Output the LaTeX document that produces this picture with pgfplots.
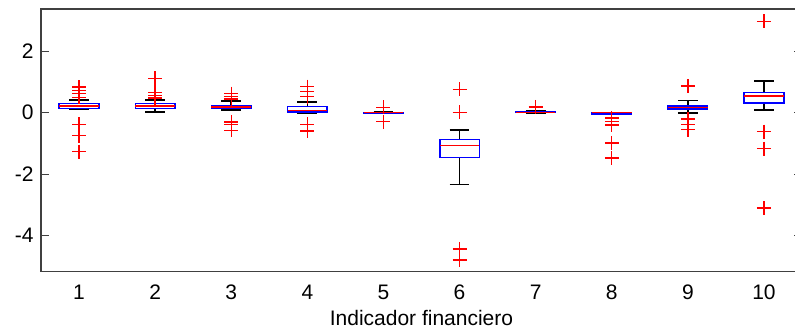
\documentclass[border=0pt]{standalone}
\usepackage{fontspec}
\setmainfont{Liberation Sans}
\usepackage{pgfplots}
\pgfplotsset{compat=1.18}
\usepgfplotslibrary{statistics}
\definecolor{mred}{RGB}{255,0,0}
\definecolor{mblue}{RGB}{0,0,255}
\begin{document}
\fontsize{10.5}{12.6}\selectfont
\begin{tikzpicture}
\begin{axis}[name=ax, at={(0,0)}, anchor=south west,
 scale only axis, width=380.5pt, height=131.2pt,
 xmin=0.5, xmax=10.5, ymin=-5.17, ymax=3.36,
 xtick={1,2,3,4,5,6,7,8,9,10}, ytick={-4,-2,0,2},
 xtick style={draw=none},
 tick align=inside, major tick length=4pt,
 ytick style={black!75, line width=0.6pt},
 axis line style={black!75, line width=0.8pt},
 /pgf/number format/assume math mode=true,
 tick label style={font=\fontsize{10.5}{12.6}\selectfont},
 xticklabel style={yshift=-3pt},
 xlabel={Indicador financiero},
 xlabel style={font=\fontsize{10.5}{12.6}\selectfont, yshift=2pt},
 boxplot/draw direction=y,
 boxplot/box extend=0.52, boxplot/whisker extend=0.26,
 boxplot/every box/.style={draw=mblue, fill=none, line width=0.8pt},
 boxplot/every whisker/.style={draw=black, line width=0.8pt},
 boxplot/every median/.style={draw=mred, line width=0.8pt},
 bp/.style={boxplot prepared={#1}, draw=mblue, line width=0.8pt, mark=none},
 out/.style={only marks, mark=+, mark size=3.5pt, color=mred, mark options={draw=mred, solid, line width=0.7pt}},
]
\addplot[bp={draw position=1, lower whisker=0.12, lower quartile=0.13, median=0.22, upper quartile=0.30, upper whisker=0.42}] coordinates {};
\addplot[bp={draw position=2, lower whisker=0.02, lower quartile=0.13, median=0.22, upper quartile=0.30, upper whisker=0.42}] coordinates {};
\addplot[bp={draw position=3, lower whisker=0.09, lower quartile=0.14, median=0.18, upper quartile=0.23, upper whisker=0.38}] coordinates {};
\addplot[bp={draw position=4, lower whisker=-0.02, lower quartile=0.02, median=0.07, upper quartile=0.20, upper whisker=0.34}] coordinates {};
\addplot[bp={draw position=5, lower whisker=-0.01, lower quartile=-0.01, median=0.0, upper quartile=0.01, upper whisker=0.02}] coordinates {};
\addplot[bp={draw position=6, lower whisker=-2.33, lower quartile=-1.46, median=-1.07, upper quartile=-0.87, upper whisker=-0.56}] coordinates {};
\addplot[bp={draw position=7, lower whisker=-0.02, lower quartile=0.0, median=0.01, upper quartile=0.02, upper whisker=0.05}] coordinates {};
\addplot[bp={draw position=8, lower whisker=-0.05, lower quartile=-0.04, median=0.0, upper quartile=0.01, upper whisker=0.01}] coordinates {};
\addplot[bp={draw position=9, lower whisker=-0.02, lower quartile=0.12, median=0.17, upper quartile=0.22, upper whisker=0.39}] coordinates {};
\addplot[bp={draw position=10, lower whisker=0.08, lower quartile=0.31, median=0.54, upper quartile=0.66, upper whisker=1.03}] coordinates {};
\addplot[out] coordinates {
 (1,0.83) (1,0.72) (1,0.62) (1,0.50) (1,-0.38) (1,-0.75) (1,-1.27)
 (2,1.12) (2,0.66) (2,0.55) (2,0.48)
 (3,0.62) (3,0.52) (3,0.45) (3,-0.30) (3,-0.38) (3,-0.58)
 (4,0.85) (4,0.68) (4,0.52) (4,-0.38) (4,-0.60)
 (5,0.17) (5,-0.29)
 (6,0.76) (6,0.01) (6,-4.43) (6,-4.79)
 (7,0.19)
 (8,-0.18) (8,-0.28) (8,-0.40) (8,-0.98) (8,-1.47)
 (9,0.86) (9,-0.20) (9,-0.38) (9,-0.55)
 (10,2.97) (10,-0.62) (10,-1.17) (10,-3.10)
};
\end{axis}
\pgfresetboundingbox
\path[use as bounding box] ([shift={(-20.5pt,-31.65pt)}]ax.south west) rectangle ([shift={(377pt,135.85pt)}]ax.south west);
\end{tikzpicture}
\end{document}
